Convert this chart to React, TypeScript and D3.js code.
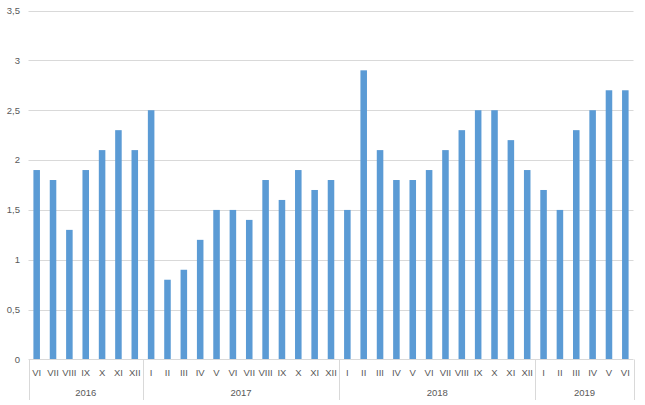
import React from "react";
import * as d3 from "d3";

const years = ["2016", "2017", "2018", "2019"];
const monthsByYear: string[][] = [
  ["VI", "VII", "VIII", "IX", "X", "XI", "XII"],
  ["I", "II", "III", "IV", "V", "VI", "VII", "VIII", "IX", "X", "XI", "XII"],
  ["I", "II", "III", "IV", "V", "VI", "VII", "VIII", "IX", "X", "XI", "XII"],
  ["I", "II", "III", "IV", "V", "VI"],
];
const valuesByYear: number[][] = [
  [1.9, 1.8, 1.3, 1.9, 2.1, 2.3, 2.1],
  [2.5, 0.8, 0.9, 1.2, 1.5, 1.5, 1.4, 1.8, 1.6, 1.9, 1.7, 1.8],
  [1.5, 2.9, 2.1, 1.8, 1.8, 1.9, 2.1, 2.3, 2.5, 2.5, 2.2, 1.9],
  [1.7, 1.5, 2.3, 2.5, 2.7, 2.7],
];
const yTicks = [0, 0.5, 1, 1.5, 2, 2.5, 3, 3.5];

export default function App() {
  const W = 645, H = 405;
  const left = 28.5, right = 633.5, top = 10.5, bottom = 359.5;
  const items = years.flatMap((y, yi) =>
    monthsByYear[yi].map((m, mi) => ({ key: `${y}-${m}`, month: m, year: y, value: valuesByYear[yi][mi] }))
  );
  const x = d3.scaleBand<string>().domain(items.map(d => d.key)).range([left, right]).paddingInner(0.6).paddingOuter(0.3);
  const y = d3.scaleLinear().domain([0, 3.5]).range([bottom, top]);
  const step = x.step();
  const fmt = (v: number) => String(v).replace(".", ",");
  const font = "'Liberation Sans', Arial, sans-serif";
  const color = "#595959";

  // year group boundaries
  let idx = 0;
  const groups = years.map((yr, yi) => {
    const start = idx;
    idx += monthsByYear[yi].length;
    return { yr, start, end: idx };
  });
  const bx = (i: number) => left + (right - left) * (i / items.length);

  return (
    <svg width={W} height={H} style={{ position: "absolute", left: 0, top: 0, background: "#fff" }}>
      {yTicks.map(t => (
        <g key={t}>
          {t > 0 && <line x1={left} x2={right} y1={Math.round(y(t)) + 0.5} y2={Math.round(y(t)) + 0.5} stroke="#d9d9d9" strokeWidth={1} />}
          <text x={20} y={y(t)} dy="0.35em" textAnchor="end" fontSize={9.5} fill={color} fontFamily={font}>{fmt(t)}</text>
        </g>
      ))}
      {items.map(d => (
        <rect key={d.key} x={x(d.key)} y={y(d.value)} width={x.bandwidth()} height={y(0) - y(d.value)} fill="#5b9bd5" />
      ))}
      <line x1={left} x2={right} y1={bottom} y2={bottom} stroke="#d9d9d9" />
      {groups.map((g, gi) => (
        <g key={g.yr}>
          {gi === 0 && <line x1={Math.round(bx(g.start)) + 0.5} x2={Math.round(bx(g.start)) + 0.5} y1={bottom} y2={400} stroke="#d9d9d9" />}
          <line x1={Math.round(bx(g.end)) + 0.5} x2={Math.round(bx(g.end)) + 0.5} y1={bottom} y2={400} stroke="#d9d9d9" />
          <text x={(bx(g.start) + bx(g.end)) / 2} y={393} dy="0.35em" textAnchor="middle" fontSize={9.5} fill={color} fontFamily={font}>{g.yr}</text>
        </g>
      ))}
      {items.map(d => (
        <text key={"l" + d.key} x={(x(d.key) as number) + x.bandwidth() / 2} y={373} dy="0.35em" textAnchor="middle" fontSize={9.5} fill={color} fontFamily={font}>{d.month}</text>
      ))}
    </svg>
  );
}
